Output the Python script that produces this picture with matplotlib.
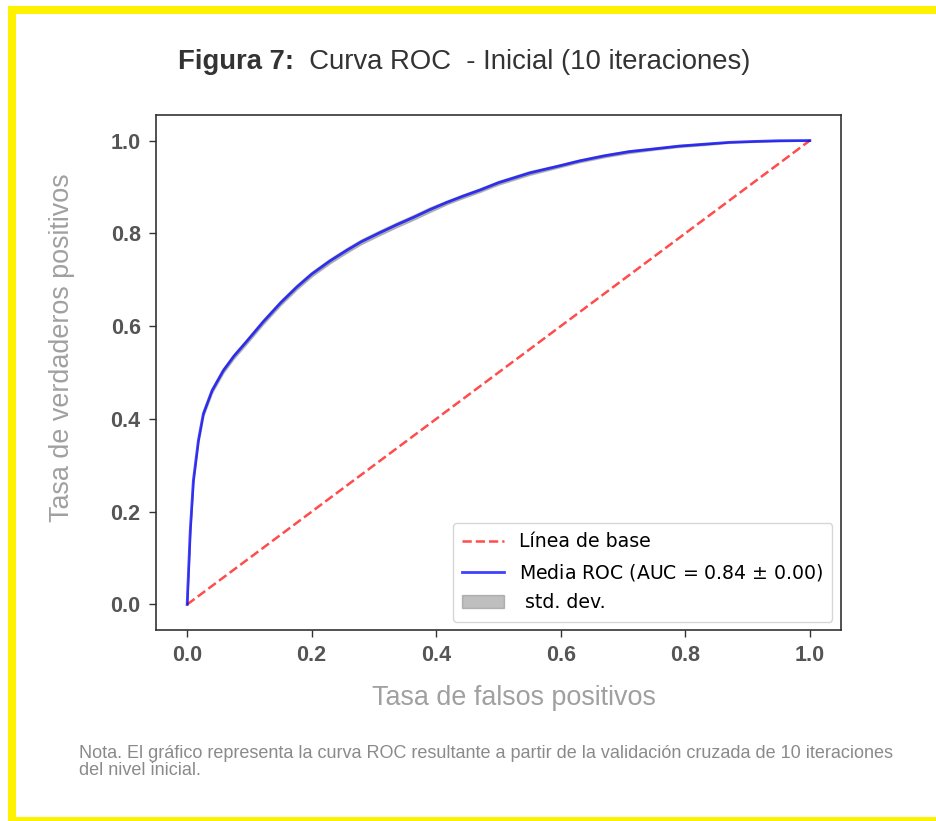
import matplotlib
matplotlib.use("Agg")
import matplotlib.pyplot as plt
from matplotlib.patches import Rectangle
import numpy as np

# ---- data ----
fpr = [0.0, 0.005, 0.010, 0.018, 0.026, 0.040, 0.058, 0.075, 0.095, 0.122, 0.150,
       0.176, 0.200, 0.229, 0.256, 0.280, 0.309, 0.336, 0.363, 0.390, 0.416, 0.443,
       0.470, 0.500, 0.550, 0.600, 0.630, 0.670, 0.710, 0.750, 0.790, 0.830, 0.870,
       0.910, 0.950, 1.0]
tpr_mean = [0.0, 0.159, 0.267, 0.353, 0.411, 0.461, 0.504, 0.535, 0.566, 0.609, 0.650,
            0.684, 0.712, 0.740, 0.763, 0.782, 0.801, 0.818, 0.834, 0.851, 0.866, 0.880,
            0.893, 0.909, 0.930, 0.946, 0.956, 0.967, 0.976, 0.982, 0.988, 0.992, 0.996,
            0.998, 0.9995, 1.0]
tpr_std = [0.0, 0.004, 0.005, 0.005, 0.005, 0.005, 0.005, 0.005, 0.005, 0.005, 0.005,
           0.005, 0.005, 0.005, 0.005, 0.005, 0.005, 0.005, 0.005, 0.005, 0.004, 0.004,
           0.004, 0.004, 0.004, 0.003, 0.003, 0.003, 0.003, 0.002, 0.002, 0.002, 0.001,
           0.001, 0.001, 0.0]
base_x = [0.0, 1.0]
base_y = [0.0, 1.0]
auc_mean, auc_std = 0.84, 0.00

xticks = [0.0, 0.2, 0.4, 0.6, 0.8, 1.0]
yticks = [0.0, 0.2, 0.4, 0.6, 0.8, 1.0]

title_bold = "Figura 7:"
title_rest = "  Curva ROC  - Inicial (10 iteraciones)"
xlabel = "Tasa de falsos positivos"
ylabel = "Tasa de verdaderos positivos"
note = ("Nota. El gráfico representa la curva ROC resultante a partir de la validación cruzada de 10 iteraciones\n"
        "del nivel inicial.")

# ---- figure ----
W, H = 937, 821
fig = plt.figure(figsize=(W / 100, H / 100), dpi=100)
fig.patch.set_facecolor("white")

# yellow frame (top, left, bottom bands)
yellow = "#FFF200"
def band(x0, y0, x1, y1):
    fig.add_artist(Rectangle((x0 / W, 1 - y1 / H), (x1 - x0) / W, (y1 - y0) / H,
                             transform=fig.transFigure, facecolor=yellow,
                             edgecolor="none", zorder=0))
band(8, 6, W, 14)
band(8, 6, 16, H)
band(8, 817, W, H)

ax = fig.add_axes([156 / W, 1 - 630 / H, (841 - 156) / W, (630 - 115) / H])

m = np.array(tpr_mean)
s = np.array(tpr_std)
ax.plot(base_x, base_y, linestyle="--", color="r", lw=1.8, alpha=0.7, label="Línea de base")
ax.plot(fpr, m, color="b", lw=2, alpha=0.75,
        label=r"Media ROC (AUC = %0.2f $\pm$ %0.2f)" % (auc_mean, auc_std))
ax.fill_between(fpr, m - s, m + s, color="grey", alpha=0.5, label=" std. dev.")

ax.set_xlim(-0.05, 1.05)
ax.set_ylim(-0.055, 1.055)
ax.set_xticks(xticks)
ax.set_yticks(yticks)
ax.set_xticklabels(["%.1f" % v for v in xticks])
ax.set_yticklabels(["%.1f" % v for v in yticks])
for lab in ax.get_xticklabels() + ax.get_yticklabels():
    lab.set_fontfamily("Liberation Sans")
    lab.set_fontweight("bold")
    lab.set_fontsize(15.5)
    lab.set_color("#555555")
ax.tick_params(axis="both", length=5, width=1, color="#333333", pad=6)
for sp in ax.spines.values():
    sp.set_color("#333333")
    sp.set_linewidth(1.2)

leg = ax.legend(loc="lower right", fontsize=13.6, frameon=True,
                borderpad=0.5, handlelength=2.2, labelspacing=0.55,
                borderaxespad=0.45)
leg.get_frame().set_edgecolor("#cccccc")

# axis labels
fig.text(514 / W, 1 - 698 / H, xlabel, ha="center", va="center",
         fontsize=19.4, color="#a0a0a0", family="Liberation Sans")
fig.text(62 / W, 1 - 348 / H, ylabel, ha="center", va="center", rotation=90,
         fontsize=19.4, color="#a0a0a0", family="Liberation Sans")

# title: bold part + regular part
t1 = fig.text(178 / W, 1 - 62 / H, title_bold, ha="left", va="center",
              fontsize=19.8, fontweight="bold", color="#333333", family="Liberation Sans")
fig.canvas.draw()
bb = t1.get_window_extent()
fig.text(bb.x1 / W, 1 - 62 / H, title_rest, ha="left", va="center",
         fontsize=19.8, color="#333333", family="Liberation Sans")

# note
fig.text(79 / W, 1 - 762 / H, note, ha="left", va="center",
         fontsize=13.0, color="#8a8a8a", family="Liberation Sans", linespacing=0.95)

fig.savefig("out.png", dpi=100, facecolor="white")
